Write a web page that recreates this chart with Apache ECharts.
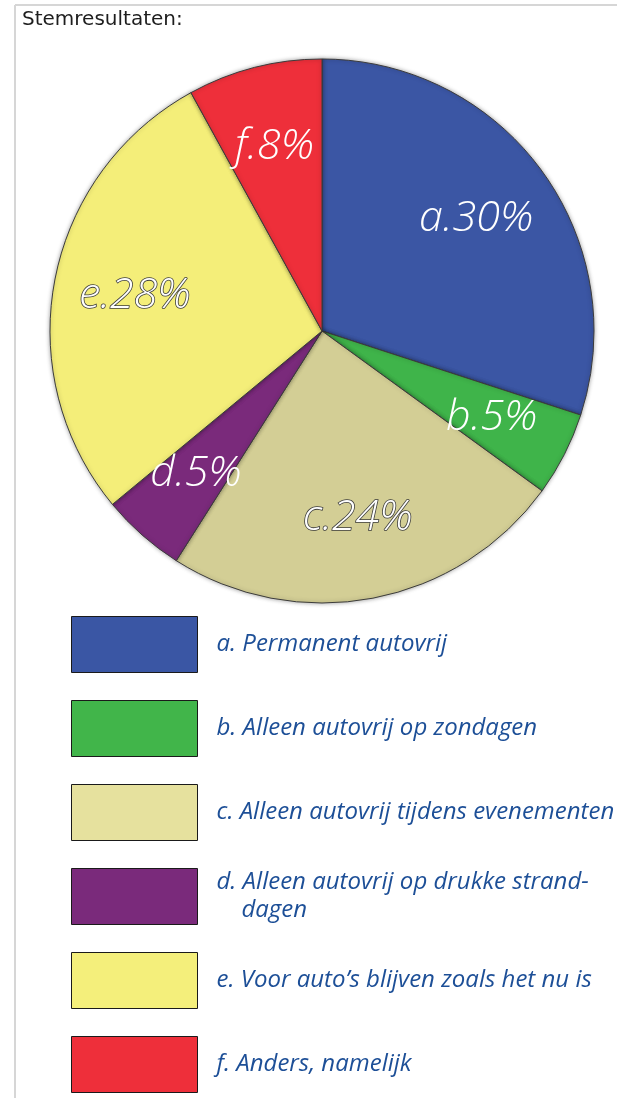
<!DOCTYPE html>
<html>
<head>
<meta charset="utf-8">
<script src="https://cdn.jsdelivr.net/npm/echarts@6/dist/echarts.min.js"></script>
<style>
  html, body { margin: 0; padding: 0; background: #fff; }
  #chart { width: 617px; height: 1098px; }
</style>
</head>
<body>
<div id="chart"></div>
<script>
// stemresultaten per keuze
const letters = ['a', 'b', 'c', 'd', 'e', 'f'];
const names = [
  'a. Permanent autovrij',
  'b. Alleen autovrij op zondagen',
  'c. Alleen autovrij tijdens evenementen',
  'd. Alleen autovrij op drukke strand-\n    dagen',
  'e. Voor auto\u2019s blijven zoals het nu is',
  'f. Anders, namelijk'
];
const percentages = [30, 5, 24, 5, 28, 8];

// kleuren van de taartpunten en de legenda
const sliceColors = ['#3b56a4', '#3fb44a', '#d3ce95', '#7a2a7b', '#f4ee79', '#ee2f3a'];
const legendColors = ['#3a56a4', '#41b54a', '#e6e19e', '#7a2a7b', '#f4ef7b', '#ee2f3a'];
const outlined = ['c', 'e']; // lichte vlakken: witte tekst met rand

const chart = echarts.init(document.getElementById('chart'));

const pieData = names.map((n, i) => ({
  name: n,
  value: percentages[i],
  itemStyle: { color: sliceColors[i] }
}));

const labelData = names.map((n, i) => ({
  name: n,
  value: percentages[i],
  label: outlined.includes(letters[i])
    ? { textBorderColor: '#3a3a3a', textBorderWidth: 1.6 }
    : {}
}));

chart.setOption({
  animation: false,
  backgroundColor: '#fff',
  graphic: [
    { type: 'line', shape: { x1: 15, y1: 5, x2: 15, y2: 1098 }, style: { stroke: '#d6d6d6', lineWidth: 2 } },
    { type: 'line', shape: { x1: 15, y1: 5, x2: 617, y2: 5 }, style: { stroke: '#d6d6d6', lineWidth: 2 } },
    {
      type: 'text', left: 22, top: 10,
      style: { text: 'Stemresultaten:', font: '20px "DejaVu Sans", sans-serif', fill: '#1e1e1e' }
    }
  ],
  legend: {
    orient: 'vertical',
    left: 71,
    top: 616,
    height: 482,
    padding: 0,
    itemWidth: 126,
    itemHeight: 56,
    itemGap: 27,
    selectedMode: false,
    icon: 'rect',
    data: names.map((n, i) => ({
      name: n,
      itemStyle: { color: legendColors[i], borderColor: '#1a1a1a', borderWidth: 1 }
    })),
    textStyle: {
      fontFamily: '"Open Sans", "Noto Sans", sans-serif',
      fontStyle: 'italic',
      fontSize: 24,
      lineHeight: 28,
      color: '#1d4f97',
      padding: [0, 0, 0, 14]
    }
  },
  series: [
    {
      type: 'pie',
      center: [322, 331],
      radius: [0, 272],
      startAngle: 90,
      clockwise: true,
      silent: true,
      label: { show: false },
      labelLine: { show: false },
      itemStyle: {
        borderColor: '#3c3c3c',
        borderWidth: 1,
        shadowBlur: 4,
        shadowColor: 'rgba(0,0,0,0.35)'
      },
      data: pieData
    },
    {
      // onzichtbare ring, alleen voor de plaats van de labels
      type: 'pie',
      center: [322, 331],
      radius: [105, 270],
      startAngle: 90,
      clockwise: true,
      silent: true,
      itemStyle: { color: 'rgba(0,0,0,0)', borderWidth: 0 },
      labelLine: { show: false },
      label: {
        show: true,
        position: 'inside',
        color: '#fff',
        fontFamily: '"Open Sans", "Noto Sans", sans-serif',
        fontStyle: 'italic',
        fontWeight: 300,
        fontSize: 43,
        formatter: p => letters[p.dataIndex] + '.' + p.value + '%'
      },
      data: labelData
    }
  ]
});
</script>
</body>
</html>
